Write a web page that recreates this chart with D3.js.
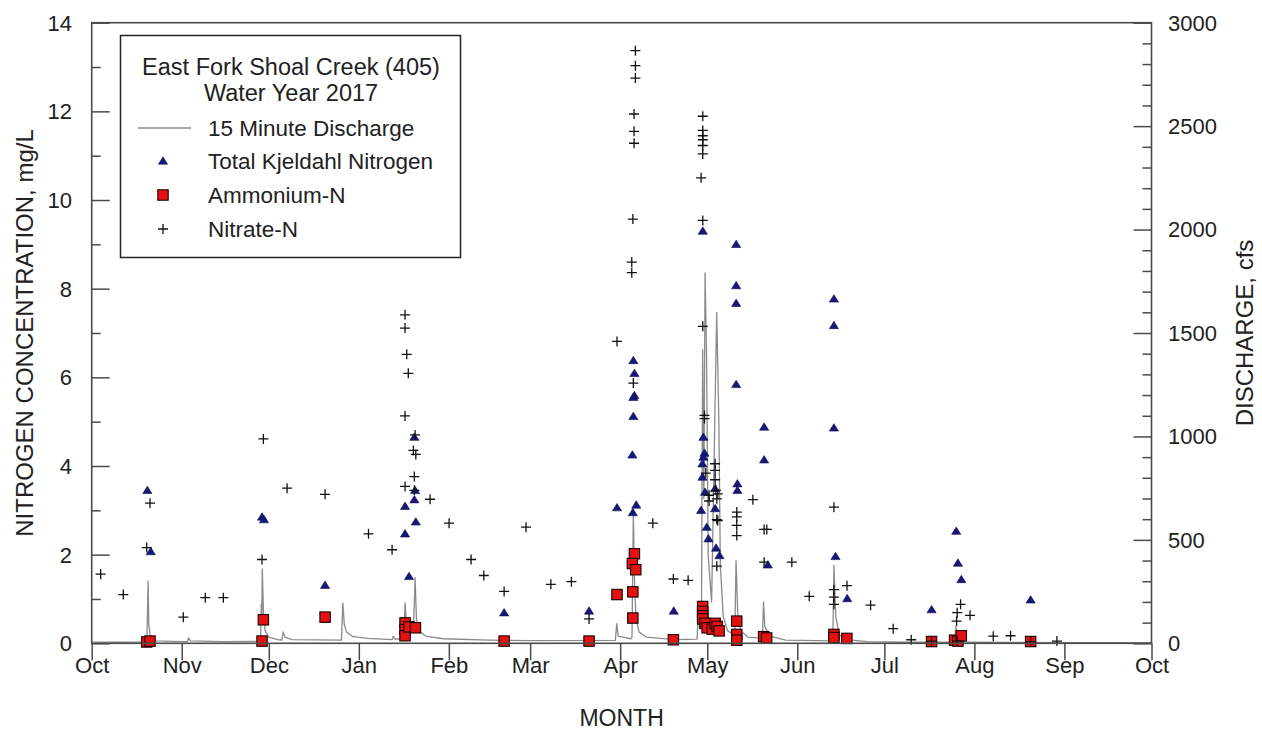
<!DOCTYPE html>
<html>
<head>
<meta charset="utf-8">
<script src="https://cdn.jsdelivr.net/npm/d3@7"></script>
<style>
  html, body { margin: 0; padding: 0; background: #fff; }
  svg { display: block; font-family: "Liberation Sans", Arial, sans-serif; }
</style>
</head>
<body>
<svg id="chart" width="1262" height="731"></svg>
<script>
// East Fork Shoal Creek (405), water year 2017
// sample times are "YYYY-MM-DD HH"; concentrations in mg/L, discharge in cfs

const monthTicks = ["2016-10-01","2016-11-01","2016-12-01","2017-01-01","2017-02-01","2017-03-01",
  "2017-04-01","2017-05-01","2017-06-01","2017-07-01","2017-08-01","2017-09-01","2017-10-01"];
const monthLabels = ["Oct","Nov","Dec","Jan","Feb","Mar","Apr","May","Jun","Jul","Aug","Sep","Oct"];
const concTicks = [0, 2, 4, 6, 8, 10, 12, 14];
const flowTicks = [0, 500, 1000, 1500, 2000, 2500, 3000];

const discharge = [
  ["2016-10-01 00",6],["2016-10-10 00",5],["2016-10-20 00",6],["2016-10-20 10",300],["2016-10-20 16",90],
  ["2016-10-21 06",30],["2016-10-23 00",12],["2016-11-01 00",8],["2016-11-03 00",8],["2016-11-03 07",26],
  ["2016-11-04 00",12],["2016-11-15 00",8],["2016-11-28 04",10],["2016-11-28 10",190],["2016-11-28 14",120],
  ["2016-11-28 18",360],["2016-11-29 04",140],["2016-11-29 18",60],["2016-12-01 00",30],["2016-12-04 00",18],
  ["2016-12-05 12",16],["2016-12-05 23",55],["2016-12-06 12",30],["2016-12-09 00",18],["2016-12-26 00",15],
  ["2016-12-26 12",195],["2016-12-27 00",90],["2016-12-27 18",55],["2016-12-30 00",32],["2017-01-04 00",24],
  ["2017-01-12 12",18],["2017-01-12 21",34],["2017-01-13 12",20],["2017-01-16 12",22],["2017-01-16 22",195],
  ["2017-01-17 10",90],["2017-01-18 12",60],["2017-01-19 20",70],["2017-01-20 09",317],["2017-01-20 20",120],
  ["2017-01-21 14",60],["2017-01-24 00",35],["2017-01-30 00",22],["2017-02-15 00",15],["2017-03-01 00",13],
  ["2017-03-30 08",14],["2017-03-30 20",95],["2017-03-31 08",35],["2017-04-04 18",22],["2017-04-05 02",30],
  ["2017-04-05 13",627],["2017-04-06 00",260],["2017-04-06 12",120],["2017-04-07 12",55],["2017-04-10 00",30],
  ["2017-04-20 00",18],["2017-04-27 12",20],["2017-04-27 23",175],["2017-04-28 08",70],["2017-04-29 00",90],
  ["2017-04-29 10",1420],["2017-04-29 20",700],["2017-04-30 06",1790],["2017-04-30 18",1400],["2017-05-01 08",420],
  ["2017-05-02 12",200],["2017-05-04 06",1600],["2017-05-05 00",1070],["2017-05-05 12",380],["2017-05-06 12",130],
  ["2017-05-08 00",60],["2017-05-10 12",40],["2017-05-10 22",400],["2017-05-11 12",140],["2017-05-12 12",60],
  ["2017-05-15 00",30],["2017-05-20 00",25],["2017-05-20 09",200],["2017-05-20 20",80],["2017-05-22 12",35],
  ["2017-05-28 00",15],["2017-06-13 06",12],["2017-06-13 15",377],["2017-06-14 06",130],["2017-06-15 12",40],
  ["2017-06-18 00",18],["2017-06-25 00",8],["2017-07-10 00",5],["2017-07-25 06",5],["2017-07-25 14",80],
  ["2017-07-26 06",15],["2017-07-30 00",5],["2017-08-15 00",4],["2017-09-01 00",3],["2017-09-30 23",3]
];

const tkn = [
  ["2016-10-20 04",3.45],["2016-10-21 08",2.07],["2016-11-28 16",2.85],["2016-11-29 08",2.79],["2016-12-20 09",1.31],
  ["2017-01-20 03",4.65],["2017-01-20 09",3.45],["2017-01-20 03",3.24],["2017-01-16 22",3.09],["2017-01-20 15",2.74],
  ["2017-01-16 22",2.47],["2017-01-18 07",1.51],["2017-02-20 01",0.69],["2017-03-21 07",0.73],["2017-03-30 22",3.06],
  ["2017-04-05 13",6.38],["2017-04-05 22",6.09],["2017-04-05 22",5.59],["2017-04-05 13",5.55],["2017-04-05 13",5.12],
  ["2017-04-05 05",4.25],["2017-04-06 13",3.12],["2017-04-05 09",2.95],["2017-04-19 11",0.73],
  ["2017-04-29 11",9.30],["2017-05-10 23",9.00],["2017-05-10 23",8.07],["2017-05-10 23",7.67],["2017-05-10 23",5.84],
  ["2017-05-20 14",4.88],["2017-05-20 14",4.14],["2017-05-11 09",3.60],["2017-05-11 09",3.45],["2017-05-21 21",1.77],
  ["2017-04-29 16",4.65],["2017-04-30 01",4.29],["2017-04-29 16",4.20],["2017-04-29 08",4.05],["2017-04-29 08",3.75],
  ["2017-04-30 06",3.41],["2017-05-03 17",3.49],["2017-05-03 17",3.04],["2017-04-28 21",3.00],["2017-04-30 20",2.62],
  ["2017-05-01 10",2.36],["2017-05-04 01",2.15],["2017-05-05 05",1.98],
  ["2017-06-13 15",7.77],["2017-06-13 15",7.17],["2017-06-13 15",4.86],["2017-06-14 04",1.96],["2017-06-18 05",1.01],
  ["2017-07-17 06",0.76],["2017-07-25 18",2.53],["2017-07-26 08",1.81],["2017-07-27 12",1.44],["2017-08-20 09",0.98]
];

const ammonium = [
  ["2016-10-19 23",0.03],["2016-10-21 02",0.05],["2016-11-28 16",0.05],["2016-11-29 03",0.53],["2016-12-20 09",0.59],
  ["2017-01-16 22",0.46],["2017-01-16 22",0.31],["2017-01-16 22",0.17],["2017-01-18 07",0.37],["2017-01-20 12",0.35],
  ["2017-02-20 01",0.05],["2017-03-21 07",0.05],["2017-03-30 22",1.10],
  ["2017-04-05 09",0.57],["2017-04-05 09",1.16],["2017-04-05 22",2.02],["2017-04-05 05",1.80],["2017-04-06 09",1.66],
  ["2017-04-19 08",0.08],
  ["2017-04-29 10",0.83],["2017-04-29 10",0.72],["2017-04-29 10",0.62],["2017-04-29 10",0.55],["2017-04-30 06",0.45],
  ["2017-04-30 23",0.35],["2017-05-02 16",0.32],["2017-05-03 17",0.45],["2017-05-04 10",0.38],["2017-05-05 02",0.28],
  ["2017-05-11 04",0.50],["2017-05-11 04",0.20],["2017-05-11 04",0.07],["2017-05-20 10",0.15],["2017-05-21 11",0.12],
  ["2017-06-13 15",0.20],["2017-06-13 15",0.13],["2017-06-18 02",0.11],
  ["2017-07-17 06",0.04],["2017-07-25 04",0.07],["2017-07-26 08",0.05],["2017-07-27 12",0.17],["2017-08-20 09",0.04]
];

const nitrate = [
  ["2016-10-04 02",1.56],["2016-10-11 21",1.10],["2016-10-19 23",2.16],["2016-10-21 02",3.16],["2016-11-01 13",0.59],
  ["2016-11-09 03",1.03],["2016-11-15 08",1.03],["2016-11-28 16",1.89],["2016-11-29 03",4.61],["2016-12-07 07",3.50],
  ["2016-12-20 09",3.36],["2017-01-04 08",2.47],["2017-01-12 11",2.11],
  ["2017-01-16 22",7.41],["2017-01-16 22",7.11],["2017-01-17 12",6.52],["2017-01-18 01",6.09],["2017-01-16 22",5.13],
  ["2017-01-20 09",4.70],["2017-01-19 19",4.35],["2017-01-20 15",4.26],["2017-01-20 03",3.76],["2017-01-16 22",3.54],
  ["2017-01-20 03",3.45],["2017-01-25 13",3.25],["2017-02-01 02",2.71],["2017-02-08 16",1.89],["2017-02-13 01",1.53],
  ["2017-02-20 01",1.17],["2017-02-27 14",2.62],["2017-03-08 03",1.33],["2017-03-15 05",1.39],["2017-03-21 07",0.55],
  ["2017-03-30 22",6.81],["2017-04-06 06",13.37],["2017-04-06 06",13.03],["2017-04-06 06",12.75],["2017-04-05 19",11.94],
  ["2017-04-05 19",11.55],["2017-04-05 19",11.28],["2017-04-05 09",9.57],["2017-04-05 00",8.60],["2017-04-05 00",8.36],
  ["2017-04-05 13",5.87],["2017-04-12 06",2.71],["2017-04-19 08",1.45],["2017-04-24 10",1.42],
  ["2017-04-29 11",11.89],["2017-04-29 11",11.57],["2017-04-29 11",11.45],["2017-04-29 11",11.36],["2017-04-29 11",11.23],
  ["2017-04-29 11",11.04],["2017-04-28 21",10.50],["2017-04-29 11",9.54],["2017-04-29 11",7.15],["2017-04-30 01",5.14],
  ["2017-04-30 01",5.07],["2017-05-03 17",4.05],["2017-05-03 17",3.90],["2017-04-30 12",3.84],["2017-05-03 17",3.69],
  ["2017-05-03 23",3.45],["2017-05-04 15",3.37],["2017-05-01 15",3.34],["2017-05-04 07",3.26],["2017-05-01 15",3.21],
  ["2017-05-04 07",2.79],["2017-05-04 15",2.77],["2017-05-04 07",1.74],
  ["2017-05-11 04",2.96],["2017-05-11 04",2.85],["2017-05-11 04",2.66],["2017-05-11 04",2.43],["2017-05-16 17",3.24],
  ["2017-05-20 14",2.57],["2017-05-21 12",2.57],["2017-05-20 14",1.83],["2017-05-30 03",1.83],
  ["2017-06-05 03",1.06],["2017-06-13 15",3.07],["2017-06-13 15",1.21],["2017-06-13 15",1.04],["2017-06-13 15",0.88],
  ["2017-06-18 03",1.30],["2017-06-26 06",0.86],["2017-07-04 01",0.33],["2017-07-10 06",0.08],["2017-07-17 06",0.05],
  ["2017-07-25 21",0.50],["2017-07-26 02",0.69],["2017-07-27 06",0.88],["2017-07-30 12",0.63],["2017-07-26 02",0.05],
  ["2017-08-07 12",0.16],["2017-08-13 11",0.17],["2017-08-20 09",0.04],["2017-08-29 10",0.05]
];

const titleLines = ["East Fork Shoal Creek (405)", "Water Year 2017"];
const legendLabels = ["15 Minute Discharge", "Total Kjeldahl Nitrogen", "Ammonium-N", "Nitrate-N"];

// ---- layout ----
const svg = d3.select("#chart");
const plot = { left: 91.7, right: 1151.5, top: 22.7, bottom: 643.3 };
const parseHour = d3.timeParse("%Y-%m-%d %H");
const parseDay = d3.timeParse("%Y-%m-%d");
const ink = "#222";
const axisInk = "#4a4a4a";

const x = d3.scaleTime()
  .domain([parseDay(monthTicks[0]), parseDay(monthTicks[monthTicks.length - 1])])
  .range([plot.left, plot.right]);
const yConc = d3.scaleLinear().domain([0, 14]).range([plot.bottom, plot.top]);
const yFlow = d3.scaleLinear().domain([0, 3000]).range([plot.bottom, plot.top]);

svg.append("rect").attr("width", 1262).attr("height", 731).attr("fill", "#fff");

// ---- discharge hydrograph ----
const flowLine = d3.line()
  .x(d => x(parseHour(d[0])))
  .y(d => yFlow(d[1]));
svg.append("path")
  .datum(discharge)
  .attr("d", flowLine)
  .attr("fill", "none")
  .attr("stroke", "#8a8a8a")
  .attr("stroke-width", 1.3)
  .attr("stroke-linejoin", "round");

// ---- markers ----
const triPath = "M0,-4.2L4.6,3.2L-4.6,3.2Z";
function drawTriangles(g, data) {
  g.selectAll("path.tkn").data(data).enter().append("path")
    .attr("class", "tkn")
    .attr("transform", d => `translate(${x(parseHour(d[0]))},${yConc(d[1])})`)
    .attr("d", triPath)
    .attr("fill", "#17177a")
    .attr("stroke", "#0d0d55")
    .attr("stroke-width", 0.6);
}
function drawSquares(g, data) {
  g.selectAll("rect.nh4").data(data).enter().append("rect")
    .attr("class", "nh4")
    .attr("x", d => x(parseHour(d[0])) - 5.2)
    .attr("y", d => yConc(d[1]) - 5.2)
    .attr("width", 10.4).attr("height", 10.4)
    .attr("fill", "#e31212")
    .attr("stroke", "#1a0000")
    .attr("stroke-width", 1.1);
}
function drawPlus(g, data) {
  g.selectAll("path.no3").data(data).enter().append("path")
    .attr("class", "no3")
    .attr("transform", d => `translate(${x(parseHour(d[0]))},${yConc(d[1])})`)
    .attr("d", "M-5,0H5M0,-5V5")
    .attr("stroke", "#111")
    .attr("stroke-width", 1.3)
    .attr("fill", "none");
}
const marks = svg.append("g");
drawTriangles(marks.append("g"), tkn);
drawSquares(marks.append("g"), ammonium);
drawPlus(marks.append("g"), nitrate);

// ---- frame ----
svg.append("rect")
  .attr("x", plot.left).attr("y", plot.top)
  .attr("width", plot.right - plot.left).attr("height", plot.bottom - plot.top)
  .attr("fill", "none").attr("stroke", axisInk).attr("stroke-width", 1.6);

// ---- left axis (inward ticks) ----
const leftAxis = d3.axisRight(yConc).tickValues(d3.range(0, 15, 1)).tickSize(9).tickFormat("");
const gL = svg.append("g").attr("transform", `translate(${plot.left},0)`).call(leftAxis);
gL.select(".domain").remove();
gL.selectAll(".tick line")
  .attr("x2", d => d % 2 === 0 ? 18 : 9)
  .attr("stroke", axisInk).attr("stroke-width", 1.5);
svg.append("g").selectAll("text").data(concTicks).enter().append("text")
  .attr("x", 72).attr("y", d => yConc(d))
  .attr("dy", "0.36em")
  .attr("text-anchor", "end")
  .attr("font-size", 22).attr("fill", ink)
  .text(d => d);

// ---- right axis (inward ticks) ----
const rightAxis = d3.axisLeft(yFlow).tickValues(d3.range(0, 3001, 100)).tickSize(9).tickFormat("");
const gR = svg.append("g").attr("transform", `translate(${plot.right},0)`).call(rightAxis);
gR.select(".domain").remove();
gR.selectAll(".tick line")
  .attr("x2", d => d % 500 === 0 ? -18 : -9)
  .attr("stroke", axisInk).attr("stroke-width", 1.5);
svg.append("g").selectAll("text").data(flowTicks).enter().append("text")
  .attr("x", 1168).attr("y", d => yFlow(d))
  .attr("dy", "0.36em")
  .attr("text-anchor", "start")
  .attr("font-size", 22).attr("fill", ink)
  .text(d => d);

// ---- bottom axis (ticks below the frame) ----
const monthDates = monthTicks.map(parseDay);
const bottomAxis = d3.axisBottom(x).tickValues(monthDates).tickSize(17).tickFormat((d, i) => monthLabels[i]);
const gB = svg.append("g").attr("transform", `translate(0,${plot.bottom})`).call(bottomAxis);
gB.select(".domain").remove();
gB.selectAll(".tick line").attr("stroke", axisInk).attr("stroke-width", 1.5);
gB.selectAll(".tick text")
  .attr("y", 14).attr("dy", "0.71em")
  .attr("font-size", 22).attr("fill", ink)
  .attr("font-family", "'Liberation Sans', Arial, sans-serif");

// ---- axis titles ----
svg.append("text")
  .attr("transform", `translate(33,333) rotate(-90)`)
  .attr("text-anchor", "middle")
  .attr("font-size", 24).attr("fill", ink)
  .text("NITROGEN CONCENTRATION, mg/L");
svg.append("text")
  .attr("transform", `translate(1253,333) rotate(-90)`)
  .attr("text-anchor", "middle")
  .attr("font-size", 24).attr("fill", ink)
  .text("DISCHARGE, cfs");
svg.append("text")
  .attr("x", (plot.left + plot.right) / 2).attr("y", 726)
  .attr("text-anchor", "middle")
  .attr("font-size", 23).attr("fill", ink)
  .text("MONTH");

// ---- legend ----
const lg = svg.append("g");
lg.append("rect")
  .attr("x", 120.5).attr("y", 35.5).attr("width", 340).attr("height", 222)
  .attr("fill", "#fff").attr("stroke", ink).attr("stroke-width", 1.5);
lg.selectAll("text.title").data(titleLines).enter().append("text")
  .attr("class", "title")
  .attr("x", 291).attr("y", (d, i) => 75 + i * 26)
  .attr("text-anchor", "middle")
  .attr("font-size", 23.5).attr("fill", ink)
  .text(d => d);
const rowY = [128, 161, 195, 229];
lg.selectAll("text.item").data(legendLabels).enter().append("text")
  .attr("class", "item")
  .attr("x", 208).attr("y", (d, i) => rowY[i])
  .attr("dy", "0.36em")
  .attr("font-size", 22.5).attr("fill", ink)
  .text(d => d);
lg.append("line")
  .attr("x1", 138).attr("x2", 191).attr("y1", rowY[0]).attr("y2", rowY[0])
  .attr("stroke", "#8a8a8a").attr("stroke-width", 1.3);
lg.append("path")
  .attr("transform", `translate(163,${rowY[1]})`)
  .attr("d", triPath).attr("fill", "#17177a").attr("stroke", "#0d0d55").attr("stroke-width", 0.6);
lg.append("rect")
  .attr("x", 163 - 5.2).attr("y", rowY[2] - 5.2).attr("width", 10.4).attr("height", 10.4)
  .attr("fill", "#e31212").attr("stroke", "#1a0000").attr("stroke-width", 1.1);
lg.append("path")
  .attr("transform", `translate(163,${rowY[3]})`)
  .attr("d", "M-5,0H5M0,-5V5").attr("stroke", "#111").attr("stroke-width", 1.3);
</script>
</body>
</html>
